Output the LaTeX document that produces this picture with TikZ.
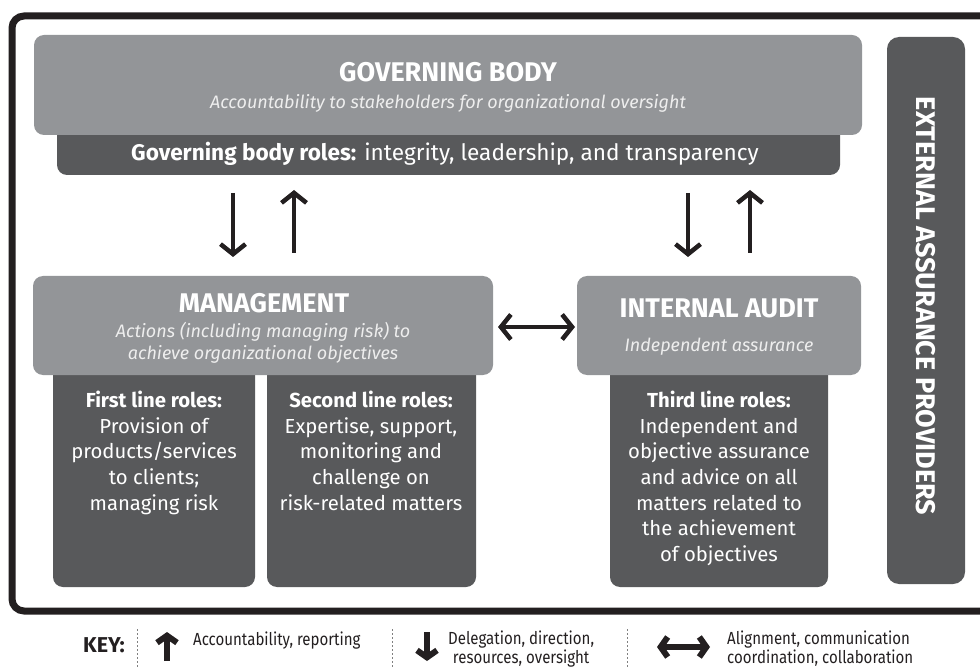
\documentclass[tikz,border=0pt]{standalone}
\usepackage{fontspec}
\setmainfont{Fira Sans}
\newfontfamily\keyfont{Fira Sans}[FakeStretch=0.86]
\usetikzlibrary{arrows.meta}
\definecolor{lightbox}{HTML}{939598}
\definecolor{darkbox}{HTML}{58595B}
\definecolor{frameblack}{HTML}{231F20}
\definecolor{subtxt}{HTML}{EEEEEE}
\tikzset{
  lightfill/.style={fill=lightbox, draw=none, rounded corners=10pt},
  darkfill/.style={fill=darkbox, draw=none, rounded corners=10pt},
  titletxt/.style={text=white, font=\fontsize{27}{32}\selectfont\bfseries, inner sep=0pt},
  subtitletxt/.style={text=subtxt, font=\fontsize{18}{22}\selectfont\itshape, inner sep=0pt, align=center},
  roletxt/.style={text=white, font=\fontsize{20.3}{25.6}\selectfont, inner sep=0pt, align=center},
  flowarrow/.style={draw=frameblack, line width=4.5pt, -{Straight Barb[length=10pt,width=25pt,line width=4.5pt]}},
  keyarrow/.style={draw=frameblack, line width=5.5pt, -{Straight Barb[length=7pt,width=20pt,line width=6pt]}},
  keytxt/.style={text=frameblack, font=\keyfont\fontsize{17.5}{19}\selectfont, inner sep=0pt, align=left},
  sep/.style={draw=gray, line width=1pt, dash pattern=on 2pt off 2pt}
}
\begin{document}
\begin{tikzpicture}[x=1pt,y=-1pt]
\useasboundingbox (0,0) rectangle (980,668);
\clip (0,0) rectangle (980,668);
% outer frame
\draw[frameblack, line width=7pt, rounded corners=12pt] (12,16) rectangle (1010,611);

% governing body
\fill[darkfill] (57,120) rectangle (840,175);
\fill[lightfill] (34,35) rectangle (862,135);
\node[titletxt] (gbtitle) at (448,72) {GOVERNING BODY};
\node[subtitletxt] (gbsub) at (448,103) {Accountability to stakeholders for organizational oversight};
\node[text=white, font=\fontsize{22.6}{26}\selectfont, inner sep=0pt] (gbroles) at (445,154) {\textbf{Governing body roles:} integrity, leadership, and transparency};

% management
\fill[darkfill] (53,360) rectangle (255,587);
\fill[darkfill] (267,360) rectangle (476,587);
\fill[lightfill] (33,276) rectangle (493,375);
\node[titletxt] (mtitle) at (264,303) {MANAGEMENT};
\node[subtitletxt, font=\fontsize{18}{22.5}\selectfont\itshape] (msub) at (263,343) {Actions (including managing risk) to\\achieve organizational objectives};
\node[roletxt, anchor=north] (first) at (154,391) {\textbf{First line roles:}\\Provision of\\products/services\\to clients;\\managing risk};
\node[roletxt, anchor=north] (second) at (371,391) {\textbf{Second line roles:}\\Expertise, support,\\monitoring and\\challenge on\\risk-related matters};

% internal audit
\fill[darkfill] (610,360) rectangle (828,587);
\fill[lightfill] (577,276) rectangle (861,375);
\node[titletxt] (iatitle) at (719,308) {INTERNAL AUDIT};
\node[subtitletxt] (iasub) at (719,347) {Independent assurance};
\node[roletxt, anchor=north] (third) at (719,391) {\textbf{Third line roles:}\\Independent and\\objective assurance\\and advice on all\\matters related to\\the achievement\\of objectives};

% external assurance
\fill[darkfill, rounded corners=12pt] (887,37) rectangle (965,584);
\node[text=white, font=\fontsize{27}{32}\selectfont\bfseries, rotate=-90, inner sep=0pt] (ext) at (926,306) {EXTERNAL ASSURANCE PROVIDERS};

% flow arrows
\coordinate (a1s) at (233,193); \coordinate (a1e) at (233,257);
\coordinate (a2s) at (294,253); \coordinate (a2e) at (294,190);
\coordinate (a3s) at (688,193); \coordinate (a3e) at (688,257);
\coordinate (a4s) at (750,253); \coordinate (a4e) at (750,190);
\draw[flowarrow] (a1s) -- (a1e);
\draw[flowarrow] (a2s) -- (a2e);
\draw[flowarrow] (a3s) -- (a3e);
\draw[flowarrow] (a4s) -- (a4e);
\coordinate (hl) at (498,327); \coordinate (hr) at (575,327);
\draw[draw=frameblack, line width=4.5pt, {Straight Barb[length=10pt,width=25pt,line width=4.5pt]}-{Straight Barb[length=10pt,width=25pt,line width=4.5pt]}] (hl) -- (hr);

% key
\node[text=frameblack, font=\fontsize{21.5}{24}\selectfont\bfseries, inner sep=0pt, anchor=west] (key) at (83,645) {KEY:};
\coordinate (s1t) at (137,629); \coordinate (s1b) at (137,668);
\coordinate (s2t) at (392,629); \coordinate (s2b) at (392,668);
\coordinate (s3t) at (627,629); \coordinate (s3b) at (627,668);
\draw[sep] (s1t) -- (s1b);
\draw[sep] (s2t) -- (s2b);
\draw[sep] (s3t) -- (s3b);
\coordinate (k1s) at (167,661); \coordinate (k1e) at (167,632);
\draw[keyarrow] (k1s) -- (k1e);
\node[keytxt, anchor=west] (k1t) at (193,641) {Accountability, reporting};
\coordinate (k2s) at (427,632); \coordinate (k2e) at (427,661);
\draw[keyarrow] (k2s) -- (k2e);
\node[keytxt, align=center, anchor=west] (k2t) at (448,649) {Delegation, direction,\\resources, oversight};
\coordinate (k3l) at (657,647); \coordinate (k3r) at (710,647);
\draw[draw=frameblack, line width=5.5pt, {Straight Barb[length=7pt,width=20pt,line width=6pt]}-{Straight Barb[length=7pt,width=20pt,line width=6pt]}] (k3l) -- (k3r);
\node[keytxt, anchor=west] (k3t) at (727,649) {Alignment, communication\\coordination, collaboration};
\end{tikzpicture}
\end{document}
